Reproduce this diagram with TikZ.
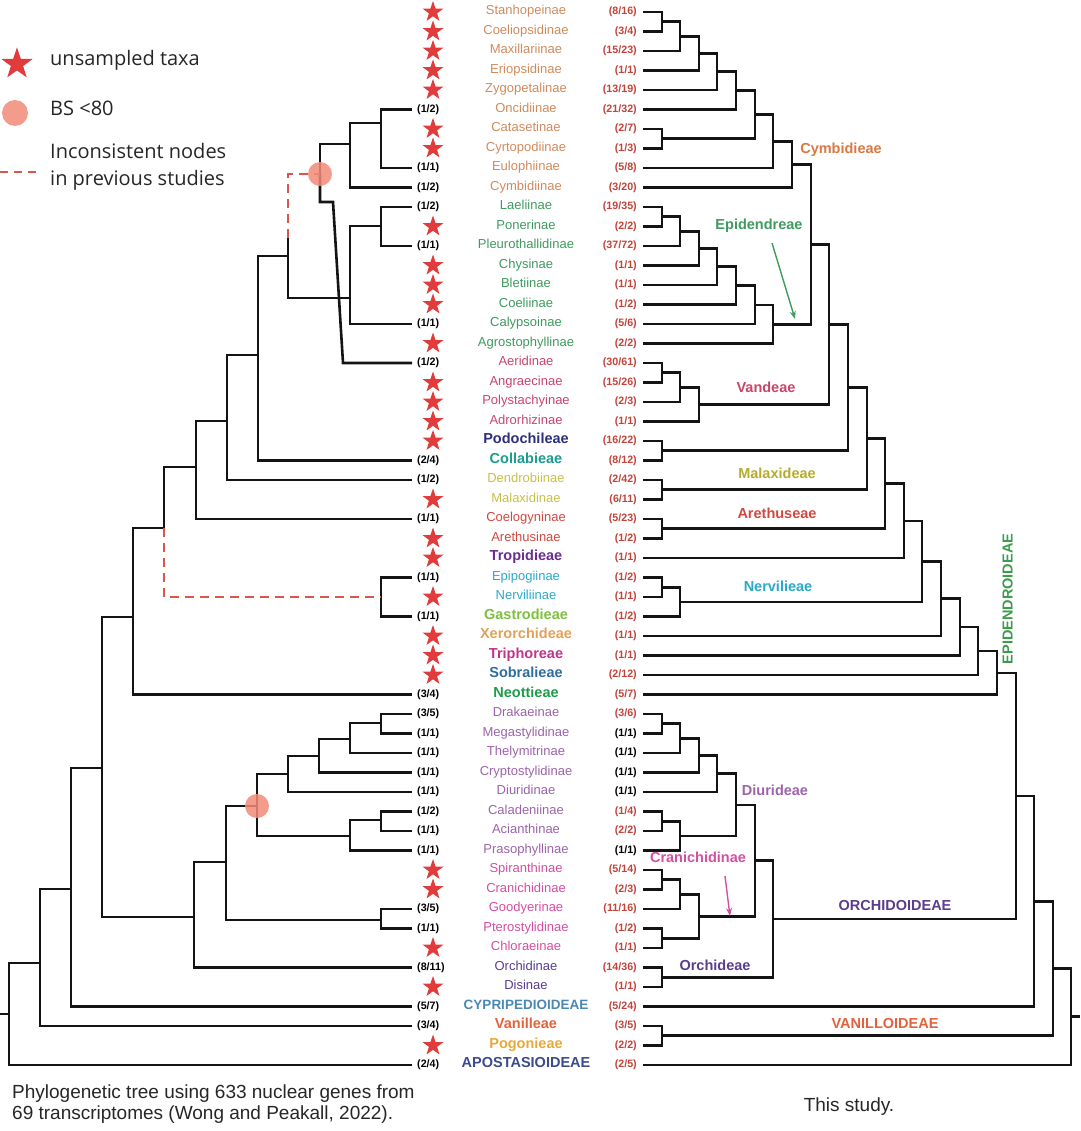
\documentclass[tikz,border=0pt]{standalone}
\usepackage{fontspec}
\setmainfont{Liberation Sans}
\newfontfamily\legfont{Open Sans}
\usetikzlibrary{shapes.geometric,arrows.meta}
\definecolor{starred}{HTML}{E23B3B}
\definecolor{numred}{HTML}{C0443A}
\definecolor{cCym}{HTML}{D08A5C}
\definecolor{cCymL}{HTML}{D9783F}
\definecolor{cEpi}{HTML}{3E9A5E}
\definecolor{cVan}{HTML}{C7456C}
\definecolor{cPod}{HTML}{2C2F7C}
\definecolor{cCol}{HTML}{1C9C90}
\definecolor{cMal}{HTML}{C8C048}
\definecolor{cMalL}{HTML}{B5AC2C}
\definecolor{cAre}{HTML}{D0483F}
\definecolor{cTro}{HTML}{6B2D8F}
\definecolor{cNer}{HTML}{2AAAC8}
\definecolor{cGas}{HTML}{7EBF3E}
\definecolor{cXer}{HTML}{E0A258}
\definecolor{cTri}{HTML}{C2338C}
\definecolor{cSob}{HTML}{2F6D9C}
\definecolor{cNeo}{HTML}{1E9B4B}
\definecolor{cDiu}{HTML}{9C63AA}
\definecolor{cCra}{HTML}{D24FA2}
\definecolor{cOrc}{HTML}{5B3D8C}
\definecolor{cCyp}{HTML}{4A88B2}
\definecolor{cVnl}{HTML}{E2623C}
\definecolor{cPog}{HTML}{E8A83A}
\definecolor{cApo}{HTML}{3C4B8E}
\definecolor{cEpd}{HTML}{3D9B4D}
\definecolor{bsc}{HTML}{F28B78}
\definecolor{dashc}{HTML}{D9574A}
\newcommand\fnR{\fontsize{13}{15}\selectfont}
\newcommand\fnB{\fontsize{14.5}{16}\selectfont\bfseries}
\newcommand\fnC{\fontsize{13.5}{16}\selectfont\bfseries}
\newcommand\fnNum{\fontsize{10.7}{12}\selectfont\bfseries}
\newcommand\fnClade{\fontsize{14.5}{16}\selectfont\bfseries}
\newcommand\TaxRow[7]{%
  \pgfmathsetmacro\rowy{12+(#1-1)*19.5}%
  \coordinate (L#1) at (412,\rowy);
  \coordinate (R#1) at (643,\rowy);
  \node[taxon,text=#3,font=#4] (N#1) at (526,\rowy) {#2};
  \node[numlab,text=#7,anchor=mid east] (B#1) at (637,\rowy) {#6};
  \def\tmpleft{#5}%
  \ifx\tmpleft\empty
    \node[starnode] (S#1) at (433,\rowy) {};
  \else
    \node[numlab,text=black,anchor=mid west] (A#1) at (417,\rowy) {#5};
  \fi
}
\begin{document}
\begin{tikzpicture}[x=1pt,y=-1pt,
  tree/.style={line width=2.6pt,black!92},
  incons/.style={line width=2.6pt,dashc,dash pattern=on 9pt off 6pt},
  taxon/.style={inner sep=0pt,anchor=mid},
  numlab/.style={inner sep=0pt,font=\fnNum},
  starnode/.style={star,star points=5,star point ratio=2.55,minimum size=22pt,inner sep=0pt,fill=starred,draw=none},
  clade/.style={inner sep=0pt,anchor=mid,font=\fnClade},
  bsnode/.style={circle,fill=bsc,opacity=0.85,minimum size=24pt,inner sep=0pt},
  pointer/.style={line width=1.4pt,-{Stealth[length=8pt,width=6pt]}}]
\useasboundingbox (0,0) rectangle (1080,1131);

% ---------- taxa rows ----------
\TaxRow{1}{Stanhopeinae}{cCym}{\fnR}{}{(8/16)}{numred}
\TaxRow{2}{Coeliopsidinae}{cCym}{\fnR}{}{(3/4)}{numred}
\TaxRow{3}{Maxillariinae}{cCym}{\fnR}{}{(15/23)}{numred}
\TaxRow{4}{Eriopsidinae}{cCym}{\fnR}{}{(1/1)}{numred}
\TaxRow{5}{Zygopetalinae}{cCym}{\fnR}{}{(13/19)}{numred}
\TaxRow{6}{Oncidiinae}{cCym}{\fnR}{(1/2)}{(21/32)}{numred}
\TaxRow{7}{Catasetinae}{cCym}{\fnR}{}{(2/7)}{numred}
\TaxRow{8}{Cyrtopodiinae}{cCym}{\fnR}{}{(1/3)}{numred}
\TaxRow{9}{Eulophiinae}{cCym}{\fnR}{(1/1)}{(5/8)}{numred}
\TaxRow{10}{Cymbidiinae}{cCym}{\fnR}{(1/2)}{(3/20)}{numred}
\TaxRow{11}{Laeliinae}{cEpi}{\fnR}{(1/2)}{(19/35)}{numred}
\TaxRow{12}{Ponerinae}{cEpi}{\fnR}{}{(2/2)}{numred}
\TaxRow{13}{Pleurothallidinae}{cEpi}{\fnR}{(1/1)}{(37/72)}{numred}
\TaxRow{14}{Chysinae}{cEpi}{\fnR}{}{(1/1)}{numred}
\TaxRow{15}{Bletiinae}{cEpi}{\fnR}{}{(1/1)}{numred}
\TaxRow{16}{Coeliinae}{cEpi}{\fnR}{}{(1/2)}{numred}
\TaxRow{17}{Calypsoinae}{cEpi}{\fnR}{(1/1)}{(5/6)}{numred}
\TaxRow{18}{Agrostophyllinae}{cEpi}{\fnR}{}{(2/2)}{numred}
\TaxRow{19}{Aeridinae}{cVan}{\fnR}{(1/2)}{(30/61)}{numred}
\TaxRow{20}{Angraecinae}{cVan}{\fnR}{}{(15/26)}{numred}
\TaxRow{21}{Polystachyinae}{cVan}{\fnR}{}{(2/3)}{numred}
\TaxRow{22}{Adrorhizinae}{cVan}{\fnR}{}{(1/1)}{numred}
\TaxRow{23}{Podochileae}{cPod}{\fnB}{}{(16/22)}{numred}
\TaxRow{24}{Collabieae}{cCol}{\fnB}{(2/4)}{(8/12)}{numred}
\TaxRow{25}{Dendrobiinae}{cMal}{\fnR}{(1/2)}{(2/42)}{numred}
\TaxRow{26}{Malaxidinae}{cMal}{\fnR}{}{(6/11)}{numred}
\TaxRow{27}{Coelogyninae}{cAre}{\fnR}{(1/1)}{(5/23)}{numred}
\TaxRow{28}{Arethusinae}{cAre}{\fnR}{}{(1/2)}{numred}
\TaxRow{29}{Tropidieae}{cTro}{\fnB}{}{(1/1)}{numred}
\TaxRow{30}{Epipogiinae}{cNer}{\fnR}{(1/1)}{(1/2)}{numred}
\TaxRow{31}{Nerviliinae}{cNer}{\fnR}{}{(1/1)}{numred}
\TaxRow{32}{Gastrodieae}{cGas}{\fnB}{(1/1)}{(1/2)}{numred}
\TaxRow{33}{Xerorchideae}{cXer}{\fnB}{}{(1/1)}{numred}
\TaxRow{34}{Triphoreae}{cTri}{\fnB}{}{(1/1)}{numred}
\TaxRow{35}{Sobralieae}{cSob}{\fnB}{}{(2/12)}{numred}
\TaxRow{36}{Neottieae}{cNeo}{\fnB}{(3/4)}{(5/7)}{numred}
\TaxRow{37}{Drakaeinae}{cDiu}{\fnR}{(3/5)}{(3/6)}{numred}
\TaxRow{38}{Megastylidinae}{cDiu}{\fnR}{(1/1)}{(1/1)}{black}
\TaxRow{39}{Thelymitrinae}{cDiu}{\fnR}{(1/1)}{(1/1)}{black}
\TaxRow{40}{Cryptostylidinae}{cDiu}{\fnR}{(1/1)}{(1/1)}{black}
\TaxRow{41}{Diuridinae}{cDiu}{\fnR}{(1/1)}{(1/1)}{black}
\TaxRow{42}{Caladeniinae}{cDiu}{\fnR}{(1/2)}{(1/4)}{numred}
\TaxRow{43}{Acianthinae}{cDiu}{\fnR}{(1/1)}{(2/2)}{numred}
\TaxRow{44}{Prasophyllinae}{cDiu}{\fnR}{(1/1)}{(1/1)}{black}
\TaxRow{45}{Spiranthinae}{cCra}{\fnR}{}{(5/14)}{numred}
\TaxRow{46}{Cranichidinae}{cCra}{\fnR}{}{(2/3)}{numred}
\TaxRow{47}{Goodyerinae}{cCra}{\fnR}{(3/5)}{(11/16)}{numred}
\TaxRow{48}{Pterostylidinae}{cCra}{\fnR}{(1/1)}{(1/2)}{numred}
\TaxRow{49}{Chloraeinae}{cCra}{\fnR}{}{(1/1)}{numred}
\TaxRow{50}{Orchidinae}{cOrc}{\fnR}{(8/11)}{(14/36)}{numred}
\TaxRow{51}{Disinae}{cOrc}{\fnR}{}{(1/1)}{numred}
\TaxRow{52}{CYPRIPEDIOIDEAE}{cCyp}{\fnC}{(5/7)}{(5/24)}{numred}
\TaxRow{53}{Vanilleae}{cVnl}{\fnB}{(3/4)}{(3/5)}{numred}
\TaxRow{54}{Pogonieae}{cPog}{\fnB}{}{(2/2)}{numred}
\TaxRow{55}{APOSTASIOIDEAE}{cApo}{\fnB}{(2/4)}{(2/5)}{numred}

% ---------- left tree (Wong and Peakall) ----------
\coordinate (la1) at (381,123);
\coordinate (la2) at (350,144);
\coordinate (la3) at (320,174);
\coordinate (aer1) at (333,202);
\coordinate (aer2) at (343,363);
\coordinate (lb1) at (381,226);
\coordinate (lb2) at (350,298);
\coordinate (lc1) at (288,256);
\coordinate (dsh1) at (288,238);
\coordinate (lc2) at (258,355);
\coordinate (lc3) at (227,421);
\coordinate (lc4) at (196,467);
\coordinate (lc5) at (164,528);
\coordinate (ln1) at (381,597);
\coordinate (lc6) at (133,617);
\coordinate (lo1) at (381,723);
\coordinate (lo2) at (350,739);
\coordinate (lo3) at (319,756);
\coordinate (lo4) at (288,774);
\coordinate (lo5) at (381,820);
\coordinate (lo6) at (350,836);
\coordinate (lo7) at (257,806);
\coordinate (lo8) at (381,920);
\coordinate (lo9) at (226,862);
\coordinate (lo10) at (194,917);
\coordinate (lr1) at (102,768);
\coordinate (lr2) at (71,889);
\coordinate (lr3) at (40,963);
\coordinate (lr4) at (9,1014);
\coordinate (rootL) at (0,1014);

\draw[tree] (la1) |- (L6) (la1) |- (L9)
  (la2) |- (la1) (la2) |- (L10)
  (la3) |- (la2);
\draw[tree] (la3) |- (aer1) -- (aer2) -- (L19);
\draw[tree] (lb1) |- (L11) (lb1) |- (L13)
  (lb2) |- (lb1) (lb2) |- (L17)
  (lc1) |- (lb2) (lc1) -- (dsh1)
  (lc2) |- (lc1) (lc2) |- (L24)
  (lc3) |- (lc2) (lc3) |- (L25)
  (lc4) |- (lc3) (lc4) |- (L27)
  (lc5) |- (lc4)
  (ln1) |- (L30) (ln1) |- (L32)
  (lc6) |- (lc5) (lc6) |- (L36);
\draw[incons] (dsh1) |- (la3);
\draw[incons] (lc5) |- (ln1);
\draw[tree] (lo1) |- (L37) (lo1) |- (L38)
  (lo2) |- (lo1) (lo2) |- (L39)
  (lo3) |- (lo2) (lo3) |- (L40)
  (lo4) |- (lo3) (lo4) |- (L41)
  (lo5) |- (L42) (lo5) |- (L43)
  (lo6) |- (lo5) (lo6) |- (L44)
  (lo7) |- (lo4) (lo7) |- (lo6)
  (lo8) |- (L47) (lo8) |- (L48)
  (lo9) |- (lo7) (lo9) |- (lo8)
  (lo10) |- (lo9) (lo10) |- (L50)
  (lr1) |- (lc6) (lr1) |- (lo10)
  (lr2) |- (lr1) (lr2) |- (L52)
  (lr3) |- (lr2) (lr3) |- (L53)
  (lr4) |- (lr3) (lr4) |- (L55)
  (rootL) -- (lr4);
\node[bsnode] (bs1) at (la3) {};
\node[bsnode] (bs2) at (lo7) {};

% ---------- right tree (this study) ----------
\coordinate (rc1) at (662,21.75);
\coordinate (rc2) at (680,36.4);
\coordinate (rc3) at (699,53.45);
\coordinate (rc4) at (717,71.7);
\coordinate (rc5) at (736,90.6);
\coordinate (rc6a) at (662,138.75);
\coordinate (rc6) at (755,114.7);
\coordinate (rc7) at (773,141.3);
\coordinate (rc8) at (792,164.4);
\coordinate (re1) at (662,216.75);
\coordinate (re2) at (680,231.4);
\coordinate (re3) at (699,248.4);
\coordinate (re4) at (717,266.7);
\coordinate (re5) at (736,285.6);
\coordinate (re6) at (755,304.8);
\coordinate (re7) at (773,324.2);
\coordinate (rk9) at (811,244.3);
\coordinate (rv1) at (662,372.75);
\coordinate (rv2) at (680,387.4);
\coordinate (rv3) at (699,404.4);
\coordinate (rk10) at (829,324.4);
\coordinate (rp1) at (662,450.75);
\coordinate (rk11) at (848,387.6);
\coordinate (rm1) at (662,489.75);
\coordinate (rk12) at (867,438.7);
\coordinate (ra1) at (662,528.75);
\coordinate (rk13) at (885,483.7);
\coordinate (rk14) at (904,520.9);
\coordinate (rn1) at (662,587.25);
\coordinate (rn2) at (680,601.9);
\coordinate (rk15) at (922,561.4);
\coordinate (rk16) at (941,598.7);
\coordinate (rk17) at (960,627.1);
\coordinate (rk18) at (978,651.05);
\coordinate (rk19) at (997,672.8);
\coordinate (rd1) at (662,723.75);
\coordinate (rd2) at (680,738.4);
\coordinate (rd3) at (699,755.4);
\coordinate (rd4) at (717,773.7);
\coordinate (rd5a) at (662,821.25);
\coordinate (rd5b) at (680,835.9);
\coordinate (rd5) at (736,804.8);
\coordinate (rg1) at (662,879.75);
\coordinate (rg2) at (680,894.4);
\coordinate (rg3) at (662,938.25);
\coordinate (rg4) at (699,916.3);
\coordinate (rg5) at (755,860.6);
\coordinate (ro1) at (662,977.25);
\coordinate (rg6) at (773,918.9);
\coordinate (rk20) at (1016,795.9);
\coordinate (rk21) at (1034,901.2);
\coordinate (rva) at (662,1035.75);
\coordinate (rk22) at (1053,968.5);
\coordinate (rk23) at (1071,1016.75);
\coordinate (rootR) at (1080,1016.75);

\draw[tree] (rc1) |- (R1) (rc1) |- (R2)
  (rc2) |- (rc1) (rc2) |- (R3)
  (rc3) |- (rc2) (rc3) |- (R4)
  (rc4) |- (rc3) (rc4) |- (R5)
  (rc5) |- (rc4) (rc5) |- (R6)
  (rc6a) |- (R7) (rc6a) |- (R8)
  (rc6) |- (rc5) (rc6) |- (rc6a)
  (rc7) |- (rc6) (rc7) |- (R9)
  (rc8) |- (rc7) (rc8) |- (R10)
  (re1) |- (R11) (re1) |- (R12)
  (re2) |- (re1) (re2) |- (R13)
  (re3) |- (re2) (re3) |- (R14)
  (re4) |- (re3) (re4) |- (R15)
  (re5) |- (re4) (re5) |- (R16)
  (re6) |- (re5) (re6) |- (R17)
  (re7) |- (re6) (re7) |- (R18)
  (rk9) |- (rc8) (rk9) |- (re7)
  (rv1) |- (R19) (rv1) |- (R20)
  (rv2) |- (rv1) (rv2) |- (R21)
  (rv3) |- (rv2) (rv3) |- (R22)
  (rk10) |- (rk9) (rk10) |- (rv3)
  (rp1) |- (R23) (rp1) |- (R24)
  (rk11) |- (rk10) (rk11) |- (rp1)
  (rm1) |- (R25) (rm1) |- (R26)
  (rk12) |- (rk11) (rk12) |- (rm1)
  (ra1) |- (R27) (ra1) |- (R28)
  (rk13) |- (rk12) (rk13) |- (ra1)
  (rk14) |- (rk13) (rk14) |- (R29)
  (rn1) |- (R30) (rn1) |- (R31)
  (rn2) |- (rn1) (rn2) |- (R32)
  (rk15) |- (rk14) (rk15) |- (rn2)
  (rk16) |- (rk15) (rk16) |- (R33)
  (rk17) |- (rk16) (rk17) |- (R34)
  (rk18) |- (rk17) (rk18) |- (R35)
  (rk19) |- (rk18) (rk19) |- (R36)
  (rd1) |- (R37) (rd1) |- (R38)
  (rd2) |- (rd1) (rd2) |- (R39)
  (rd3) |- (rd2) (rd3) |- (R40)
  (rd4) |- (rd3) (rd4) |- (R41)
  (rd5a) |- (R42) (rd5a) |- (R43)
  (rd5b) |- (rd5a) (rd5b) |- (R44)
  (rd5) |- (rd4) (rd5) |- (rd5b)
  (rg1) |- (R45) (rg1) |- (R46)
  (rg2) |- (rg1) (rg2) |- (R47)
  (rg3) |- (R48) (rg3) |- (R49)
  (rg4) |- (rg2) (rg4) |- (rg3)
  (rg5) |- (rd5) (rg5) |- (rg4)
  (ro1) |- (R50) (ro1) |- (R51)
  (rg6) |- (rg5) (rg6) |- (ro1)
  (rk20) |- (rk19) (rk20) |- (rg6)
  (rk21) |- (rk20) (rk21) |- (R52)
  (rva) |- (R53) (rva) |- (R54)
  (rk22) |- (rk21) (rk22) |- (rva)
  (rk23) |- (rk22) (rk23) |- (R55)
  (rk23) -- (rootR);

% ---------- clade labels ----------
\node[clade,text=cCymL] (lCym) at (841,151) {Cymbidieae};
\node[clade,text=cEpi] (lEpi) at (759,227) {Epidendreae};
\node[clade,text=cVan] (lVan) at (766,390) {Vandeae};
\node[clade,text=cMalL] (lMal) at (777,476) {Malaxideae};
\node[clade,text=cAre] (lAre) at (777,516) {Arethuseae};
\node[clade,text=cNer] (lNer) at (778,589) {Nervilieae};
\node[clade,text=cDiu] (lDiu) at (775,793) {Diurideae};
\node[clade,text=cCra] (lCra) at (698,860) {Cranichidinae};
\node[clade,text=cOrc] (lOrc) at (715,968) {Orchideae};
\node[clade,text=cOrc] (lORC) at (895,908) {ORCHIDOIDEAE};
\node[clade,text=cVnl] (lVNL) at (885,1026) {VANILLOIDEAE};
\node[clade,text=cEpd,rotate=90] (lEPD) at (1010,599) {EPIDENDROIDEAE};
\coordinate (epiA) at (772,243);
\coordinate (epiB) at (795,319);
\coordinate (craA) at (725,876);
\coordinate (craB) at (730,916);
\draw[pointer,cEpi] (epiA) -- (epiB);
\draw[pointer,cCra] (craA) -- (craB);

% ---------- legend ----------
\node[star,star points=5,star point ratio=2.55,minimum size=33pt,inner sep=0pt,fill=starred] (legstar) at (17,64) {};
\node[anchor=mid west,inner sep=0pt,font=\legfont\fontsize{20}{22}\selectfont,text=black!85] (legt1) at (50,63) {unsampled taxa};
\node[circle,fill=bsc,opacity=0.85,minimum size=26pt,inner sep=0pt] (legbs) at (15,113) {};
\node[anchor=mid west,inner sep=0pt,font=\legfont\fontsize{20}{22}\selectfont,text=black!85] (legt2) at (50,113) {BS <80};
\coordinate (legd1) at (0,172);
\coordinate (legd2) at (40,172);
\draw[line width=2.6pt,dashc,dash pattern=on 8pt off 6pt] (legd1) -- (legd2);
\node[anchor=mid west,inner sep=0pt,font=\legfont\fontsize{20}{22}\selectfont,text=black!85] (legt3) at (50,156) {Inconsistent nodes};
\node[anchor=mid west,inner sep=0pt,font=\legfont\fontsize{20}{22}\selectfont,text=black!85] (legt4) at (50,183) {in previous studies};

% ---------- captions ----------
\node[anchor=mid west,inner sep=0pt,font=\fontsize{19}{21}\selectfont,text=black!85] (cap1) at (12,1096) {Phylogenetic tree using 633 nuclear genes from};
\node[anchor=mid west,inner sep=0pt,font=\fontsize{19}{21}\selectfont,text=black!85] (cap2) at (12,1117) {69 transcriptomes (Wong and Peakall, 2022).};
\node[anchor=mid,inner sep=0pt,font=\fontsize{19}{21}\selectfont,text=black!85] (cap3) at (849,1109) {This study.};
\end{tikzpicture}
\end{document}
